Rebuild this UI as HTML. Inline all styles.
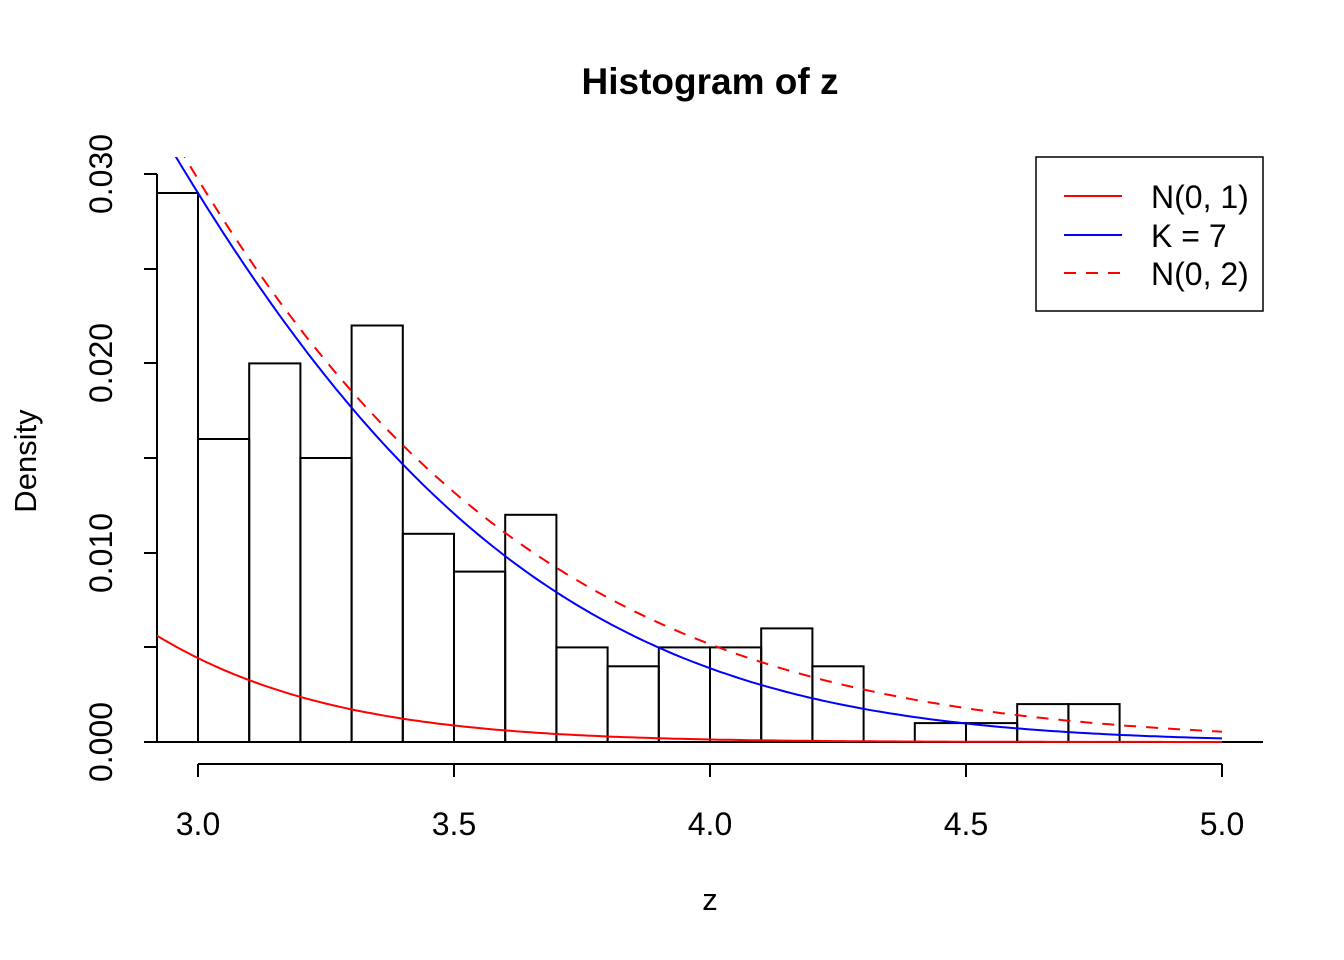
<!DOCTYPE html>
<html><head><meta charset="utf-8"><style>
html,body{margin:0;padding:0;background:#fff;}
svg{display:block;font-family:"Liberation Sans",Arial,sans-serif;}
</style></head><body>
<svg id="s" width="1344" height="960" xmlns="http://www.w3.org/2000/svg">
<defs><clipPath id="c"><rect x="157" y="157" width="1106" height="600"/></clipPath></defs>
<text x="710" y="94" font-size="37" font-weight="bold" text-anchor="middle">Histogram of z</text>
<text x="710" y="910" font-size="31" text-anchor="middle">z</text>
<text transform="translate(36,461) rotate(-90)" font-size="31" text-anchor="middle">Density</text>
<g fill="none" stroke="#000" stroke-width="2">
<rect x="157" y="193" width="41" height="549"/>
<rect x="198" y="439" width="51.2" height="303"/>
<rect x="249.2" y="363.4" width="51.2" height="378.6"/>
<rect x="300.4" y="458" width="51.2" height="284"/>
<rect x="351.6" y="325.5" width="51.2" height="416.5"/>
<rect x="402.8" y="533.8" width="51.2" height="208.2"/>
<rect x="454" y="571.6" width="51.2" height="170.4"/>
<rect x="505.2" y="514.8" width="51.2" height="227.2"/>
<rect x="556.4" y="647.4" width="51.2" height="94.6"/>
<rect x="607.6" y="666.3" width="51.2" height="75.7"/>
<rect x="658.8" y="647.4" width="51.2" height="94.6"/>
<rect x="710" y="647.4" width="51.2" height="94.6"/>
<rect x="761.2" y="628.4" width="51.2" height="113.6"/>
<rect x="812.4" y="666.3" width="51.2" height="75.7"/>
<rect x="914.8" y="723.1" width="51.2" height="18.9"/>
<rect x="966" y="723.1" width="51.2" height="18.9"/>
<rect x="1017.2" y="704.1" width="51.2" height="37.9"/>
<rect x="1068.4" y="704.1" width="51.2" height="37.9"/>
</g>
<line x1="157" y1="742" x2="1263" y2="742" stroke="#000" stroke-width="2"/>
<g stroke="#000" stroke-width="2" fill="none">
<line x1="198" y1="764" x2="1222" y2="764"/>
<line x1="198" y1="764" x2="198" y2="777"/><line x1="454" y1="764" x2="454" y2="777"/><line x1="710" y1="764" x2="710" y2="777"/><line x1="966" y1="764" x2="966" y2="777"/><line x1="1222" y1="764" x2="1222" y2="777"/>
<line x1="157" y1="174" x2="157" y2="742"/>
<line x1="157" y1="742" x2="144" y2="742"/><line x1="157" y1="647" x2="144" y2="647"/><line x1="157" y1="553" x2="144" y2="553"/><line x1="157" y1="458" x2="144" y2="458"/><line x1="157" y1="363" x2="144" y2="363"/><line x1="157" y1="269" x2="144" y2="269"/><line x1="157" y1="174" x2="144" y2="174"/>
</g>
<g font-size="32" text-anchor="middle">
<text x="198" y="835">3.0</text><text x="454" y="835">3.5</text><text x="710" y="835">4.0</text><text x="966" y="835">4.5</text><text x="1222" y="835">5.0</text>
<text transform="translate(112,742) rotate(-90)">0.000</text>
<text transform="translate(112,553) rotate(-90)">0.010</text>
<text transform="translate(112,363) rotate(-90)">0.020</text>
<text transform="translate(112,174) rotate(-90)">0.030</text>
</g>
<g clip-path="url(#c)" fill="none" stroke-width="2">
<path id="p1" stroke="#f00"/>
<path id="p2" stroke="#00f"/>
<path id="p3" stroke="#f00" stroke-dasharray="12,10"/>
</g>
<rect x="1036" y="157" width="227" height="154" fill="none" stroke="#000" stroke-width="1.5"/>
<line x1="1064" y1="196" x2="1122" y2="196" stroke="#f00" stroke-width="2"/>
<line x1="1064" y1="235" x2="1122" y2="235" stroke="#00f" stroke-width="2"/>
<line x1="1064" y1="273" x2="1122" y2="273" stroke="#f00" stroke-width="2" stroke-dasharray="12,10"/>
<g font-size="32"><text x="1151" y="208">N(0, 1)</text><text x="1151" y="247">K = 7</text><text x="1151" y="285">N(0, 2)</text></g>
<script>
var X=function(v){return 198+(v-3)*512},Y=function(d){return 742-d*18930};
function path(f){var d='';for(var v=2.9;v<=5.0001;v+=0.01){d+=(d?'L':'M')+X(v).toFixed(1)+','+Y(f(v)).toFixed(1);}return d;}
document.getElementById('p1').setAttribute('d',path(function(x){return Math.exp(-x*x/2)/Math.sqrt(2*Math.PI)}));
document.getElementById('p2').setAttribute('d',path(function(x){var t=x-3;return .029*Math.exp(-1.501*t-.506*t*t)}));
document.getElementById('p3').setAttribute('d',path(function(x){return Math.exp(-x*x/4)/Math.sqrt(4*Math.PI)}));
</script>
</svg>
</body></html>
